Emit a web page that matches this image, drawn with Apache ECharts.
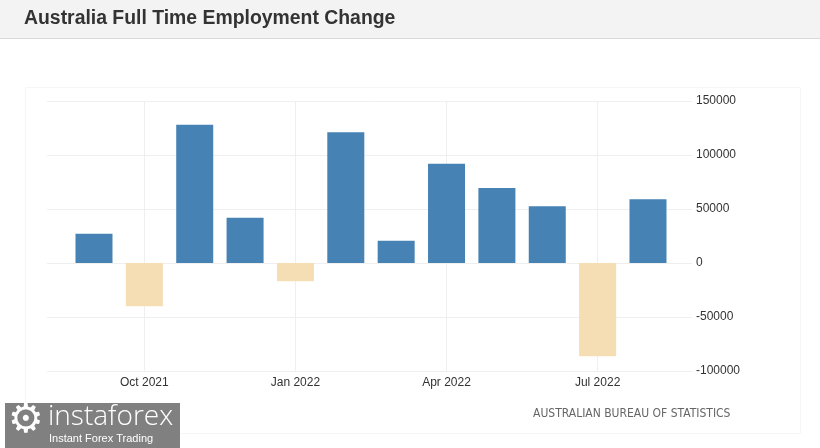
<!DOCTYPE html>
<html>
<head>
<meta charset="utf-8">
<title>Australia Full Time Employment Change</title>
<script src="https://cdn.jsdelivr.net/npm/echarts@6/dist/echarts.min.js"></script>
<style>
    html, body { margin: 0; padding: 0; background: #fff; }
    #chart { width: 820px; height: 448px; }
</style>
</head>
<body>
<div id="chart"></div>
<script>
// monthly full time employment change (persons)
var months = ['2021-09', '2021-10', '2021-11', '2021-12', '2022-01', '2022-02',
              '2022-03', '2022-04', '2022-05', '2022-06', '2022-07', '2022-08'];
var changes = [27000, -40000, 128000, 42000, -17000, 121000,
               20600, 92000, 69500, 52500, -86400, 59000];
var tickMonths = ['2021-10', '2022-01', '2022-04', '2022-07'];
var tickLabels = ['Oct 2021', 'Jan 2022', 'Apr 2022', 'Jul 2022'];

// x is the month position in the list
var tickIdx = tickMonths.map(function(m) { return months.indexOf(m); });
var seriesData = months.map(function(m, i) { return [i, changes[i]]; });

var chart = echarts.init(document.getElementById('chart'));
var labelFont = '"Liberation Sans", Arial, sans-serif';

chart.setOption({
    animation: false,
    backgroundColor: '#fff',
    grid: { left: 47, right: 128, top: 101, bottom: 77 },
    xAxis: {
        type: 'value',
        min: -0.933,
        max: months.length - 1 + 0.874,
        axisLine: { show: false },
        axisTick: { show: false, customValues: tickIdx },
        axisLabel: {
            customValues: tickIdx,
            margin: 6,
            color: '#333',
            fontFamily: labelFont,
            fontSize: 12,
            formatter: function(v) {
                var i = tickIdx.indexOf(Math.round(v));
                return i >= 0 ? tickLabels[i] : '';
            }
        },
        splitLine: { show: true, lineStyle: { color: '#efefef', width: 1 } }
    },
    yAxis: {
        type: 'value',
        position: 'right',
        min: -100000,
        max: 150000,
        interval: 50000,
        axisLine: { show: false },
        axisTick: { show: false },
        axisLabel: {
            margin: 4, color: '#333', fontFamily: labelFont, fontSize: 12,
            formatter: function(v) { return String(v); }
        },
        splitLine: { lineStyle: { color: '#efefef', width: 1 } }
    },
    series: [{
        type: 'bar',
        barWidth: 37,
        data: seriesData,
        itemStyle: {
            color: function(p) {
                return p.value[1] >= 0 ? '#4682b4' : '#f5deb3';
            }
        }
    }],
    graphic: [
        // header bar
        { type: 'rect', shape: { x: 0, y: 0, width: 820, height: 38 },
          style: { fill: '#f3f3f3' }, silent: true },
        { type: 'line', shape: { x1: 0, y1: 38.5, x2: 820, y2: 38.5 },
          style: { stroke: '#d9d9d9', lineWidth: 1 }, silent: true },
        { type: 'text', x: 24, y: 9,
          style: { text: 'Australia Full Time Employment Change', fill: '#333',
                   font: 'bold 19.4px "Liberation Sans", Arial, sans-serif' } },
        // faint panel frame
        { type: 'rect', shape: { x: 25.5, y: 87.5, width: 775, height: 346 },
          style: { fill: 'none', stroke: '#f6f6f6', lineWidth: 1 }, silent: true, z: -1 },
        // source
        { type: 'text', x: 533, y: 408,
          style: { text: 'AUSTRALIAN BUREAU OF STATISTICS', fill: '#666',
                   font: '12px "DejaVu Sans Condensed", "Liberation Sans", sans-serif' } },
        // watermark logo
        { type: 'rect', shape: { x: 5, y: 403, width: 175, height: 45 },
          style: { fill: '#808080' }, silent: true },
        { type: 'text', x: 8, y: 402,
          style: { text: '\u2699', fill: '#fff', font: '40px "DejaVu Sans", sans-serif' } },
        { type: 'text', x: 48, y: 403,
          style: { text: 'instaforex', fill: '#fff', font: '300 28px "Open Sans", "Noto Sans", sans-serif' } },
        { type: 'text', x: 49, y: 433,
          style: { text: 'Instant Forex Trading', fill: '#fff', font: '11px "Liberation Sans", Arial, sans-serif' } }
    ]
});
</script>
</body>
</html>
